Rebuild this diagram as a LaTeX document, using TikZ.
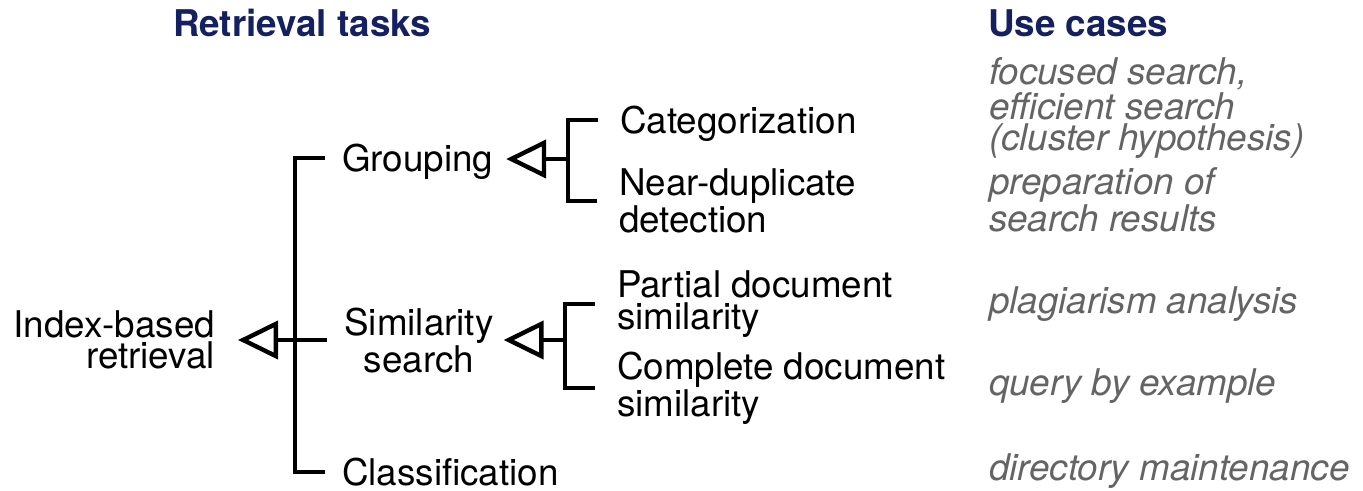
\documentclass[tikz,border=0pt]{standalone}
\usepackage{fontspec}
\setmainfont{TeX Gyre Heros}
\usetikzlibrary{arrows.meta,calc}
\definecolor{titleblue}{RGB}{20,32,95}
\definecolor{casegray}{RGB}{100,100,100}
\newcommand{\labelfont}{\fontsize{18.4}{15.6}\selectfont}
\begin{document}
\begin{tikzpicture}[x=0.5pt,y=-0.5pt,
  every node/.style={inner sep=0pt,outer sep=0pt,font=\labelfont},
  heading/.style={anchor=base west,text=titleblue,font=\labelfont\bfseries},
  oneline/.style={text height=13.2pt,text depth=0pt},
  usecase/.style={text=casegray,align=left,font=\labelfont\itshape},
  link/.style={line width=2.2pt,line join=miter},
  arr/.style={line width=2.2pt,-{Triangle[open,length=20pt,width=19pt]}}]
\useasboundingbox (0,0) rectangle (1363,491);

% column headings
\node[heading] (h1) at (173,37) {Retrieval tasks};
\node[heading] (h2) at (988,37) {Use cases};

% task hierarchy
\node[align=right,anchor=east] (ir) at (215,340) {Index-based\\retrieval};
\node[oneline,anchor=west] (grp) at (342,158) {Grouping};
\node[align=center,anchor=center] (sim) at (419,340.5) {Similarity\\search};
\node[oneline,anchor=west] (cls) at (342,472) {Classification};
\node[oneline,anchor=west] (cat) at (620,120) {Categorization};
\node[align=left,anchor=west] (ndd) at (619,201) {Near-duplicate\\detection};
\node[align=left,anchor=west] (pds) at (617,304) {Partial document\\similarity};
\node[align=left,anchor=west] (cds) at (617,388) {Complete document\\similarity};

% use cases
\node[usecase,anchor=west] (u1) at (989,108) {focused search,\\efficient search\\(cluster hypothesis)};
\node[usecase,anchor=west] (u2) at (989,200) {preparation of\\search results};
\node[usecase,anchor=base west] (u3) at (989,314) {plagiarism analysis};
\node[usecase,anchor=base west] (u4) at (989,395) {query by example};
\node[usecase,anchor=base west] (u5) at (989,480) {directory maintenance};

% brackets and arrows
\coordinate (rj) at (295,340);
\draw[link] ($(grp.west)+(-17,0)$) -| (rj) |- ($(cls.west)+(-17,0)$);
\draw[arr] ($(rj -| sim.west)+(-17,0)$) -- ($(rj -| ir.east)+(23,0)$);

\coordinate (gj) at (568,159);
\draw[link] ($(cat.west)+(-22,0)$) -| (gj) |- ($(ndd.west)+(-22,0)$);
\draw[arr] (gj) -- ($(gj -| grp.east)+(13,0)$);

\coordinate (sj) at (565,340);
\draw[link] ($(pds.west)+(-22,0)$) -| (sj) |- ($(cds.west)+(-22,0)$);
\draw[arr] (sj) -- ($(sj -| sim.east)+(10,0)$);
\end{tikzpicture}
\end{document}
